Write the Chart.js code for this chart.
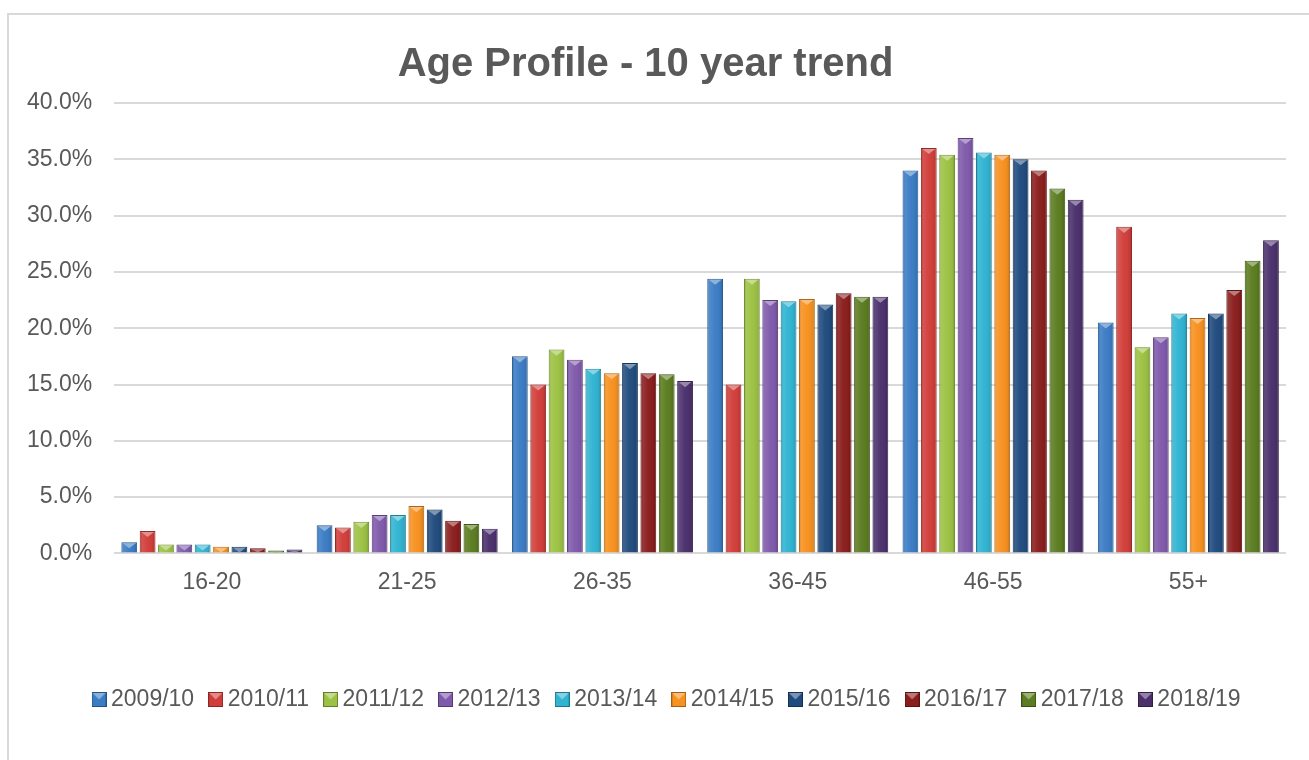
<!DOCTYPE html>
<html>
<head>
<meta charset="utf-8">
<title>Age Profile - 10 year trend</title>
<script src="https://cdn.jsdelivr.net/npm/chart.js@4"></script>
<style>
    html, body { margin: 0; padding: 0; background: #fff; }
    #wrap { position: relative; width: 1309px; height: 760px; }
    #frame { position: absolute; left: 7px; top: 13px; right: 0; bottom: 0;
             border-left: 2px solid #d9d9d9; border-top: 2px solid #d9d9d9; }
    canvas { position: absolute; left: 0; top: 0; }
</style>
</head>
<body>
<div id="wrap">
    <div id="frame"></div>
    <canvas id="ageChart" width="1309" height="760"></canvas>
</div>
<script>
'use strict';

// age bands and reporting years
const ageBands = ['16-20', '21-25', '26-35', '36-45', '46-55', '55+'];
const years = ['2009/10', '2010/11', '2011/12', '2012/13', '2013/14',
               '2014/15', '2015/16', '2016/17', '2017/18', '2018/19'];

// share of staff in each band (%)
const y2009 = [1.0, 2.5, 17.5, 24.4, 34.0, 20.5];
const y2010 = [2.0, 2.3, 15.0, 15.0, 36.0, 29.0];
const y2011 = [0.8, 2.8, 18.1, 24.4, 35.4, 18.3];
const y2012 = [0.8, 3.4, 17.2, 22.5, 36.9, 19.2];
const y2013 = [0.8, 3.4, 16.4, 22.4, 35.6, 21.3];
const y2014 = [0.6, 4.2, 16.0, 22.6, 35.4, 20.9];
const y2015 = [0.6, 3.9, 16.9, 22.1, 35.0, 21.3];
const y2016 = [0.45, 2.9, 16.0, 23.1, 34.0, 23.4];
const y2017 = [0.25, 2.6, 15.9, 22.8, 32.4, 26.0];
const y2018 = [0.35, 2.2, 15.3, 22.8, 31.4, 27.8];
const series = [y2009, y2010, y2011, y2012, y2013, y2014, y2015, y2016, y2017, y2018];

const colours = ['#3b7cc5', '#d13e3a', '#9cc243', '#7f5aab', '#30b4d2',
                 '#f7911f', '#204b7e', '#8a1d1d', '#5b7c20', '#4b306c'];

const textGrey = '#595959';
const fontFace = "'Liberation Sans', Arial, sans-serif";

function mix(hex, target, amt) {
    const n = parseInt(hex.slice(1), 16);
    const c = [(n >> 16) & 255, (n >> 8) & 255, n & 255].map(function(v) {
        return Math.round(v + (target - v) * amt);
    });
    return 'rgb(' + c.join(',') + ')';
}

// little bevelled square used as the legend marker
function swatch(colour) {
    const s = 15;
    const c = document.createElement('canvas');
    c.width = s; c.height = s;
    const g = c.getContext('2d');
    g.fillStyle = colour;
    g.fillRect(0, 0, s, s);
    g.beginPath();
    g.moveTo(1, 1); g.lineTo(s - 1, 1); g.lineTo(s / 2, s / 2); g.closePath();
    g.fillStyle = mix(colour, 255, 0.4);
    g.fill();
    g.strokeStyle = mix(colour, 0, 0.35);
    g.lineWidth = 1;
    g.strokeRect(0.5, 0.5, s - 1, s - 1);
    return c;
}

// shading and the light top facet on every bar
const bevelPlugin = {
    id: 'bevel',
    afterDatasetsDraw: function(chart) {
        const ctx = chart.ctx;
        ctx.save();
        chart.data.datasets.forEach(function(ds, i) {
            chart.getDatasetMeta(i).data.forEach(function(bar) {
                const p = bar.getProps(['x', 'y', 'base', 'width'], true);
                const l = p.x - p.width / 2, r = p.x + p.width / 2;
                const top = Math.min(p.y, p.base), h = Math.abs(p.base - p.y);
                if (h < 1) return;
                const g = ctx.createLinearGradient(l, 0, r, 0);
                g.addColorStop(0, 'rgba(0,0,0,0.12)');
                g.addColorStop(0.15, 'rgba(255,255,255,0.12)');
                g.addColorStop(0.5, 'rgba(255,255,255,0.02)');
                g.addColorStop(0.85, 'rgba(0,0,0,0.06)');
                g.addColorStop(1, 'rgba(0,0,0,0.22)');
                ctx.fillStyle = g;
                ctx.fillRect(l + 1, top + 1, p.width - 2, h - 1);
                const d = Math.min(p.width * 0.32, h - 1);
                ctx.beginPath();
                ctx.moveTo(l + 1.5, top + 1);
                ctx.lineTo(r - 1.5, top + 1);
                ctx.lineTo(p.x, top + 1 + d);
                ctx.closePath();
                ctx.fillStyle = mix(ds.backgroundColor, 255, 0.42);
                ctx.fill();
            });
        });
        ctx.restore();
    }
};

// nudge the legend row a little to the right
const legendShift = {
    id: 'legendShift',
    afterLayout: function(chart) {
        chart.legend.left += 24;
        chart.legend.right += 24;
    }
};

const datasets = series.map(function(values, i) {
    return {
        label: years[i],
        data: values,
        backgroundColor: colours[i],
        borderColor: mix(colours[i], 0, 0.3),
        borderWidth: 1,
        pointStyle: swatch(colours[i]),
        categoryPercentage: 0.94,
        barPercentage: 0.86
    };
});

Chart.defaults.font.family = fontFace;
Chart.defaults.color = textGrey;

new Chart(document.getElementById('ageChart'), {
    type: 'bar',
    data: { labels: ageBands, datasets: datasets },
    options: {
        responsive: false,
        animation: false,
        layout: { padding: { top: 20, left: 5, right: 23, bottom: 39 } },
        plugins: {
            title: {
                display: true,
                text: 'Age Profile - 10 year trend',
                color: textGrey,
                font: { size: 40, weight: 'bold' },
                padding: { top: 21, bottom: 14 }
            },
            legend: {
                position: 'bottom',
                labels: {
                    usePointStyle: true,
                    pointStyleWidth: 1,
                    boxWidth: 15,
                    boxHeight: 15,
                    padding: 21,
                    color: textGrey,
                    font: { size: 23 }
                }
            },
            tooltip: { enabled: false }
        },
        scales: {
            x: {
                grid: { display: false, drawTicks: false },
                border: { display: false },
                ticks: { padding: 15, font: { size: 23 }, color: textGrey },
                afterFit: function(scale) { scale.height += 56; }
            },
            y: {
                min: 0,
                max: 40,
                grid: { color: '#d9d9d9', lineWidth: 2, drawTicks: false },
                border: { display: false },
                ticks: {
                    stepSize: 5,
                    padding: 22,
                    font: { size: 23 },
                    color: textGrey,
                    callback: function(v) { return v.toFixed(1) + '%'; }
                }
            }
        }
    },
    plugins: [bevelPlugin, legendShift]
});
</script>
</body>
</html>
